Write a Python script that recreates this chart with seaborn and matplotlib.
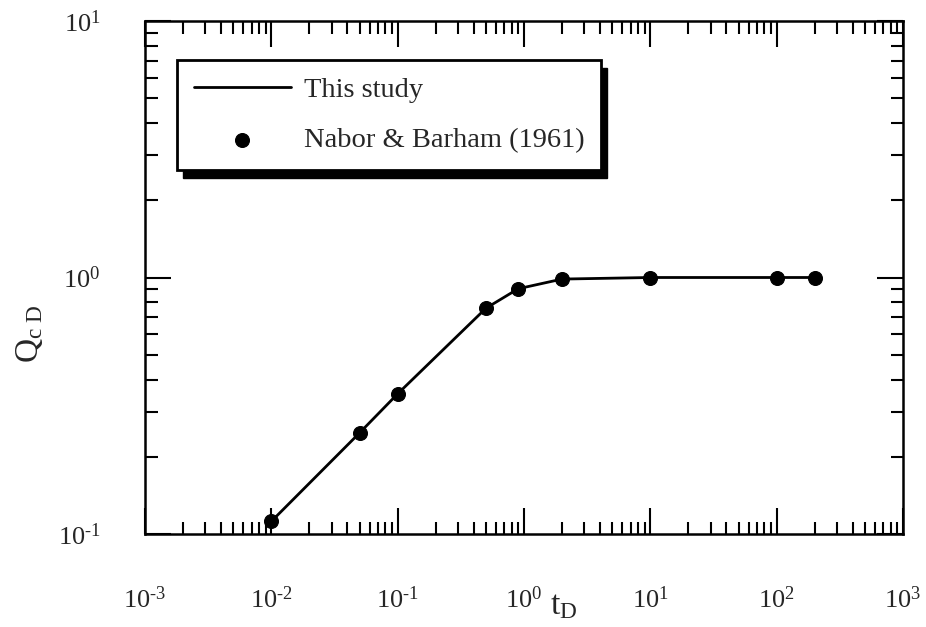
import numpy as np
import pandas as pd
import matplotlib
matplotlib.use("Agg")
import matplotlib.pyplot as plt
import seaborn as sns
from matplotlib.patches import Rectangle
from matplotlib.transforms import IdentityTransform
from matplotlib.ticker import LogLocator, FuncFormatter, NullFormatter

# ---- data ----
t_line = [0.01, 0.05, 0.1, 0.5, 0.9, 2.0, 10.0, 100.0, 200.0]
q_line = [0.112, 0.248, 0.352, 0.759, 0.904, 0.986, 1.0, 1.0, 1.0]

t_pts = [0.01, 0.05, 0.1, 0.5, 0.9, 2.0, 10.0, 100.0, 200.0]
q_pts = [0.112, 0.248, 0.352, 0.759, 0.904, 0.986, 1.0, 1.0, 1.0]

line_label = "This study"
pts_label = "Nabor & Barham (1961)"

sns.set_theme(style="ticks")
plt.rcParams["font.family"] = ["Liberation Serif", "DejaVu Serif"]
plt.rcParams["mathtext.fontset"] = "custom"
plt.rcParams["mathtext.rm"] = "Liberation Serif"
plt.rcParams["mathtext.it"] = "Liberation Serif:italic"
plt.rcParams["mathtext.default"] = "regular"
plt.rcParams["axes.unicode_minus"] = False

fig = plt.figure(figsize=(9.26, 6.27), dpi=100)
ax = fig.add_axes([145 / 926, 1 - 534 / 627, 758 / 926, 513 / 627])

df_line = pd.DataFrame({"t": t_line, "q": q_line})
df_pts = pd.DataFrame({"t": t_pts, "q": q_pts})

sns.lineplot(data=df_line, x="t", y="q", ax=ax, color="black", lw=2.0,
             label=line_label, zorder=2)
sns.scatterplot(data=df_pts, x="t", y="q", ax=ax, color="black",
                edgecolor="black", s=100, label=pts_label, zorder=3)

ax.set_xscale("log")
ax.set_yscale("log")
ax.set_xlim(1e-3, 1e3)
ax.set_ylim(1e-1, 1e1)


def pow_fmt(v, pos):
    e = int(round(np.log10(v)))
    if e < 0:
        return r"$10^{\text{-}%d}$" % (-e)
    return r"$10^{%d}$" % e


for axis in (ax.xaxis, ax.yaxis):
    axis.set_major_locator(LogLocator(base=10, numticks=20))
    axis.set_minor_locator(LogLocator(base=10, subs=np.arange(2, 10), numticks=20))
    axis.set_major_formatter(FuncFormatter(pow_fmt))
    axis.set_minor_formatter(NullFormatter())

ax.tick_params(which="both", direction="in", top=True, right=True,
               color="black", width=1.5)
ax.tick_params(which="major", length=19)
ax.tick_params(which="minor", length=9)
ax.tick_params(axis="x", which="major", pad=38, labelsize=19)
ax.tick_params(axis="y", which="major", pad=32, labelsize=19)

for s in ax.spines.values():
    s.set_linewidth(1.8)
    s.set_color("black")

ax.set_xlabel(r"$t_{D}$", fontsize=24)
ax.xaxis.set_label_coords(0.553, -0.11)
ax.set_ylabel(r"$Q_{c\ D}$", fontsize=24)
ax.yaxis.set_label_coords(-0.132, 0.39)

leg = ax.legend(loc="upper left", bbox_to_anchor=(0.042, 0.924),
                borderaxespad=0, frameon=True, fancybox=False,
                fontsize=20.5, handlelength=3.4, handletextpad=0.45,
                labelspacing=0.85, borderpad=0.6)
leg.get_frame().set_edgecolor("black")
leg.get_frame().set_linewidth(2.0)
leg.get_frame().set_facecolor("white")
leg.get_frame().set_alpha(1)

fig.canvas.draw()
bb = leg.get_frame().get_window_extent()
shadow = Rectangle((bb.x0 + 6, bb.y0 - 8), bb.width, bb.height,
                   transform=IdentityTransform(), facecolor="black",
                   edgecolor="black", zorder=leg.get_zorder() - 0.1,
                   clip_on=False)
ax.add_artist(shadow)

fig.savefig("out.png", dpi=100, facecolor="white")
